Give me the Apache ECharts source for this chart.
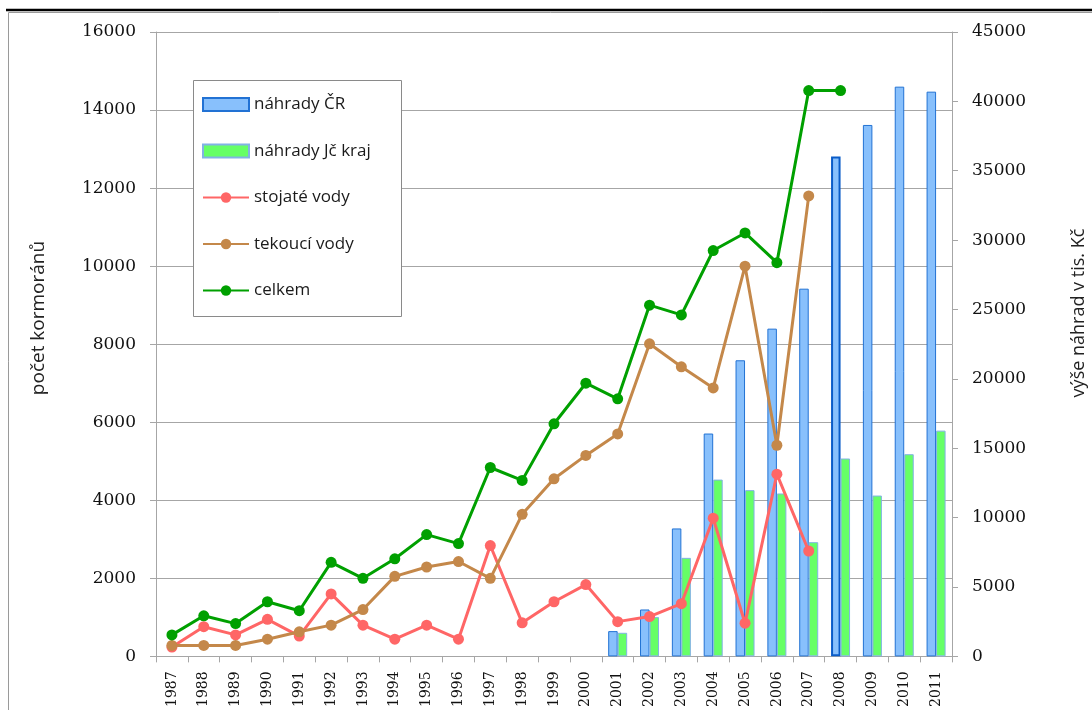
<!DOCTYPE html>
<html>
<head>
<meta charset="utf-8">
<script src="https://cdn.jsdelivr.net/npm/echarts@6/dist/echarts.min.js"></script>
<style>
  html, body { margin: 0; padding: 0; background: #fff; }
  #chart { width: 1092px; height: 710px; }
</style>
</head>
<body>
<div id="chart"></div>
<script>
// Cormorant counts (left axis) and compensation paid (right axis, thousands CZK)
var years = ['1987','1988','1989','1990','1991','1992','1993','1994','1995','1996','1997','1998','1999',
             '2000','2001','2002','2003','2004','2005','2006','2007','2008','2009','2010','2011'];

var nahradyCR = [null,null,null,null,null,null,null,null,null,null,null,null,null,null,
                 1820, 3380, 9220, 16060, 21340, 23620, 26500, 36020, 38300, 41060, 40700];
var nahradyJc = [null,null,null,null,null,null,null,null,null,null,null,null,null,null,
                 1700, 2830, 7100, 12740, 11980, 11740, 8230, 14260, 11590, 14570, 16270];

var stojateVody = [240, 760, 550, 950, 520, 1600, 800, 440, 800, 440, 2840, 860, 1400, 1840,
                   890, 1020, 1350, 3540, 850, 4670, 2700, null, null, null, null];
var tekouciVody = [280, 280, 280, 440, 630, 800, 1200, 2050, 2290, 2430, 2000, 3640, 4550, 5150,
                   5700, 8010, 7420, 6880, 10000, 5410, 11800, null, null, null, null];
var celkem = [550, 1040, 840, 1400, 1170, 2410, 2000, 2500, 3120, 2890, 4840, 4510, 5960, 7000,
              6600, 9000, 8750, 10400, 10850, 10090, 14500, 14500, null, null, null];

var leftTitle = 'počet kormoránů';
var rightTitle = 'výše náhrad v tis. Kč';

var axisGray = '#A6A6A6';
var tickFont = { fontFamily: 'DejaVu Serif', fontSize: 17, color: '#111' };
var plainNumber = function (v) { return String(v); };

var chart = echarts.init(document.getElementById('chart'), null, { renderer: 'canvas' });

// highlight outline used on the 2008 national bar
var cr = nahradyCR.map(function (v, i) {
  if (years[i] === '2008') {
    return { value: v, itemStyle: { borderColor: '#0A5CC8', borderWidth: 2 } };
  }
  return v;
});

chart.setOption({
  animation: false,
  backgroundColor: '#ffffff',
  grid: { left: 156, right: 140, top: 32, bottom: 53, containLabel: false },
  legend: {
    orient: 'vertical',
    left: 202,
    top: 96,
    padding: 0,
    itemWidth: 46,
    itemHeight: 13,
    itemGap: 29.5,
    z: 10,
    textStyle: { fontFamily: 'Open Sans', fontSize: 17, color: '#1a1a1a', lineHeight: 13 },
    data: [
      { name: 'náhrady ČR', icon: 'rect' },
      { name: 'náhrady Jč kraj', icon: 'rect' },
      { name: 'stojaté vody' },
      { name: 'tekoucí vody' },
      { name: 'celkem' }
    ]
  },
  graphic: [
    // outer frame of the chart area
    { type: 'line', shape: { x1: 6, y1: 10, x2: 1092, y2: 10 }, style: { stroke: '#000', lineWidth: 2.5 }, z: 1 },
    { type: 'line', shape: { x1: 8.5, y1: 12.5, x2: 1092, y2: 12.5 }, style: { stroke: '#9a9a9a', lineWidth: 1 }, z: 1 },
    { type: 'line', shape: { x1: 8.5, y1: 12.5, x2: 8.5, y2: 710 }, style: { stroke: '#9a9a9a', lineWidth: 1 }, z: 1 },
    // legend box
    { type: 'rect', shape: { x: 193.5, y: 80.5, width: 208, height: 236 },
      style: { fill: '#fff', stroke: '#8a8a8a', lineWidth: 1 }, z: 5 },
    // axis titles
    { type: 'text', x: 39, y: 318, rotation: Math.PI / 2,
      style: { text: leftTitle, fontFamily: 'Open Sans', fontSize: 19, fill: '#222',
               align: 'center', verticalAlign: 'middle' } },
    { type: 'text', x: 1079, y: 313, rotation: Math.PI / 2,
      style: { text: rightTitle, fontFamily: 'Open Sans', fontSize: 18, fill: '#222',
               align: 'center', verticalAlign: 'middle' } }
  ],
  xAxis: {
    type: 'category',
    data: years,
    boundaryGap: true,
    axisLine: { lineStyle: { color: axisGray, width: 1 } },
    axisTick: { show: true, length: 6, lineStyle: { color: axisGray } },
    axisLabel: { rotate: 90, margin: 15, interval: 0, fontFamily: 'DejaVu Serif', fontSize: 14, color: '#111' },
    splitLine: { show: false }
  },
  yAxis: [
    {
      type: 'value', position: 'left', min: 0, max: 16000, interval: 2000,
      axisLine: { show: true, lineStyle: { color: axisGray } },
      axisTick: { show: true, length: 6, lineStyle: { color: axisGray } },
      axisLabel: Object.assign({ margin: 20, formatter: plainNumber }, tickFont),
      splitLine: { show: true, lineStyle: { color: axisGray, width: 1 } }
    },
    {
      type: 'value', position: 'right', min: 0, max: 45000, interval: 5000,
      axisLine: { show: true, lineStyle: { color: axisGray } },
      axisTick: { show: true, length: 6, lineStyle: { color: axisGray } },
      axisLabel: Object.assign({ margin: 20, formatter: plainNumber }, tickFont),
      splitLine: { show: false }
    }
  ],
  series: [
    {
      name: 'náhrady ČR', type: 'bar', yAxisIndex: 1, data: cr,
      barWidth: 9.5, barGap: '0%',
      itemStyle: { color: '#88C0FC', borderColor: '#2272D4', borderWidth: 1 }
    },
    {
      name: 'náhrady Jč kraj', type: 'bar', yAxisIndex: 1, data: nahradyJc,
      barWidth: 9.5, barGap: '0%',
      itemStyle: { color: '#66FF66', borderColor: '#82B2E4', borderWidth: 1 }
    },
    {
      name: 'stojaté vody', type: 'line', yAxisIndex: 0, data: stojateVody,
      symbol: 'circle', symbolSize: 11, z: 3,
      lineStyle: { color: '#FF6666', width: 3 },
      itemStyle: { color: '#FF6666' }
    },
    {
      name: 'tekoucí vody', type: 'line', yAxisIndex: 0, data: tekouciVody,
      symbol: 'circle', symbolSize: 11, z: 3,
      lineStyle: { color: '#C4884A', width: 3 },
      itemStyle: { color: '#C4884A' }
    },
    {
      name: 'celkem', type: 'line', yAxisIndex: 0, data: celkem,
      symbol: 'circle', symbolSize: 11, z: 3,
      lineStyle: { color: '#00A000', width: 3 },
      itemStyle: { color: '#00A000' }
    }
  ]
});
</script>
</body>
</html>
